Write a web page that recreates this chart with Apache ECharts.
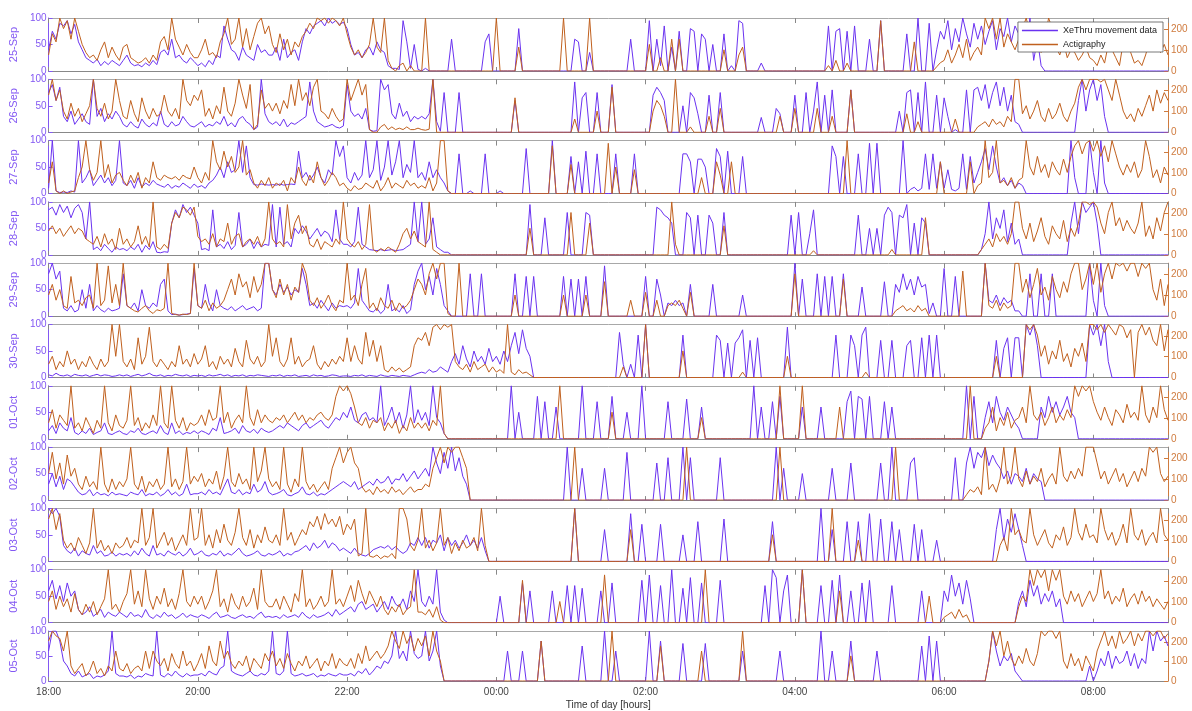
<!DOCTYPE html>
<html><head><meta charset="utf-8">
<script src="https://cdn.jsdelivr.net/npm/echarts@6/dist/echarts.min.js"></script>
<style>html,body{margin:0;padding:0;background:#fff}#c{width:1192px;height:711px}</style>
</head><body><div id="c"></div>
<script>
// Sampling step of the arrays (minutes after 18:00)
const STEP_MIN = 3;
const dayLabels = ['25-Sep','26-Sep','27-Sep','28-Sep','29-Sep','30-Sep','01-Oct','02-Oct','03-Oct','04-Oct','05-Oct'];
const seriesNames = ['XeThru movement data','Actigraphy'];

// ---------- 25-Sep ----------
const xeSep25 = [
40,75,60,90,85,95,70,88,55,40,25,20,15,22,10,18,12,20,15,10,
20,30,15,10,12,8,15,10,20,12,35,40,30,60,25,30,20,15,25,18,
10,15,8,20,12,30,25,85,60,40,35,20,45,30,25,20,50,35,40,30,
30,45,20,60,25,35,40,20,55,80,70,85,90,95,85,100,90,95,88,92,
80,50,30,35,25,40,45,30,55,40,35,10,5,5,3,95,55,5,50,3,
0,5,0,0,0,0,0,0,60,0,0,0,0,0,0,0,0,55,70,0,
0,0,0,0,0,0,80,0,0,0,0,0,0,0,0,0,0,0,0,0,
0,60,55,0,0,35,0,0,0,0,0,0,0,0,0,0,60,0,0,0,
0,95,0,60,10,85,0,45,0,75,0,0,80,75,0,70,60,0,50,0,
0,70,0,10,0,95,90,0,0,0,0,15,0,0,0,0,0,0,0,0,
0,0,0,0,0,0,0,0,0,85,0,75,80,0,75,0,85,0,0,0,
60,0,0,95,0,0,0,0,0,0,70,0,0,100,0,0,90,0,40,75,
60,95,40,80,55,100,70,45,90,60,85,50,75,95,40,80,65,100,55,85,
70,90,40,100,20,60,10,0,0,0,0,0,0,0,0,0,0,0,0,0,
0,0,0,0,0,0,0,0,0,0,0,0,0,0,0,0,0,0,0,0,0];
const acSep25 = [
77,179,140,255,204,242,153,255,191,128,89,64,77,51,102,140,64,115,77,51,
115,128,64,51,38,46,64,38,77,51,140,166,102,255,153,115,77,128,89,64,
64,102,153,77,89,64,140,179,255,128,153,255,115,204,102,166,230,255,179,217,
128,89,179,102,153,77,140,115,166,191,230,204,255,242,255,230,255,242,217,255,
179,115,77,102,64,89,128,255,115,89,255,51,13,0,26,38,0,26,0,0,
0,255,0,0,0,0,0,0,0,0,0,0,0,0,0,0,0,0,0,0,
255,0,0,0,0,0,115,0,0,0,0,0,0,0,0,0,0,0,255,0,
0,0,0,0,0,255,0,0,0,0,0,0,0,0,0,0,0,0,0,0,
0,128,0,0,64,0,0,153,0,153,0,0,0,0,0,0,0,0,0,0,
0,102,0,0,0,77,115,0,0,0,0,0,0,0,0,0,0,0,0,0,
0,0,0,0,0,0,0,0,0,26,0,51,0,0,38,0,0,0,0,0,
0,0,0,242,0,0,0,0,0,0,0,0,140,0,0,0,0,0,20,40,
51,102,38,77,128,64,153,51,89,115,77,255,204,255,153,255,115,179,140,102,
153,204,255,179,102,128,89,153,255,204,115,77,140,64,102,89,51,77,115,64,
51,26,77,38,128,102,64,26,140,115,89,38,51,26,77,140,102,153,89,128,77];

// ---------- 26-Sep ----------
const xeSep26 = [
75,90,60,85,30,20,40,15,25,35,20,15,100,30,45,20,35,25,40,30,
15,10,20,12,8,25,15,10,18,12,40,15,10,20,12,15,30,20,12,10,
15,20,10,15,12,20,15,30,12,18,10,25,30,20,15,5,10,100,35,20,
15,20,12,25,10,18,15,20,25,30,95,40,20,15,10,12,15,10,8,12,
90,40,30,35,25,45,5,2,3,100,80,90,35,25,55,30,40,20,30,25,
30,25,35,100,20,2,75,0,0,0,75,0,0,0,0,0,0,0,0,0,
0,0,0,0,0,60,0,0,0,0,0,0,0,0,0,0,0,0,0,0,
0,95,0,65,75,0,0,75,0,0,0,90,0,0,0,0,0,0,0,0,
0,0,70,85,75,60,0,0,0,0,50,0,75,65,35,0,0,70,0,0,
75,0,0,0,0,0,0,0,0,0,0,28,0,0,0,45,35,0,0,0,
70,0,0,75,0,40,95,0,70,0,80,0,0,0,0,80,0,0,0,0,
0,0,0,0,0,0,0,0,40,0,75,80,0,75,0,95,0,0,70,0,
65,30,0,5,0,0,80,0,80,85,60,90,45,75,95,50,85,40,70,20,
15,0,0,0,0,0,0,0,0,0,0,0,0,0,0,0,60,100,40,80,
100,60,90,30,0,0,0,0,0,0,0,0,0,0,0,0,0,0,0,0,0];
const acSep26 = [
179,255,153,204,102,64,140,77,115,51,89,128,255,115,77,140,64,102,255,153,
77,64,153,89,51,166,102,64,115,77,89,179,102,77,115,64,255,153,128,179,
153,204,77,115,64,128,89,217,102,77,140,255,179,115,230,13,38,204,115,140,
102,140,89,153,115,230,128,255,153,191,128,217,255,102,89,64,115,77,51,64,
255,153,204,255,179,230,13,0,0,26,38,13,26,13,20,13,26,13,13,20,
13,10,15,255,0,0,0,0,0,0,0,0,0,0,0,0,0,0,0,0,
0,0,0,0,0,166,0,0,0,0,0,0,0,0,0,0,0,0,0,0,
0,64,0,0,0,0,0,102,0,0,0,217,0,0,0,0,0,0,0,0,
0,0,102,153,128,77,0,0,255,0,0,0,26,0,0,0,0,77,0,0,
115,0,0,0,0,0,0,0,0,0,0,0,0,0,0,0,77,0,0,0,
115,0,0,0,0,0,115,0,0,0,77,0,0,0,0,204,0,0,0,0,
0,0,0,0,0,0,0,0,0,0,89,0,0,51,0,0,0,0,0,0,
0,0,0,64,0,0,0,0,0,26,38,51,26,64,38,51,26,77,51,255,
255,89,128,64,102,153,77,51,115,64,89,140,77,51,102,140,217,255,204,255,
255,255,242,255,204,153,255,179,102,64,89,51,115,77,128,179,102,204,140,191,153];

// ---------- 27-Sep ----------
const xeSep27 = [
10,100,5,2,3,2,5,3,100,20,30,45,15,25,35,20,30,15,25,100,
20,15,25,10,30,12,20,15,25,18,15,12,18,10,15,12,20,15,10,18,
12,15,10,20,25,35,50,30,60,40,45,100,40,90,30,17,16,18,17,16,
17,16,18,16,17,18,17,80,30,40,25,35,50,30,20,45,35,100,70,90,
30,20,40,25,35,100,30,45,100,25,50,100,35,60,100,30,55,40,100,30,
40,25,60,30,45,30,20,5,0,0,75,0,0,5,0,0,0,75,0,0,
0,5,0,0,0,0,0,0,85,0,0,0,0,0,0,100,0,0,0,0,
70,0,60,0,80,0,0,75,0,0,0,0,75,0,0,0,0,75,0,0,
0,0,0,0,0,0,0,0,0,0,75,75,60,0,65,65,50,0,0,85,
70,0,80,0,0,0,70,0,0,0,0,0,0,0,0,0,0,0,0,0,
0,0,0,0,0,0,0,0,0,0,90,70,0,70,0,0,0,75,0,0,
95,0,95,0,0,0,0,0,0,100,0,8,12,5,10,75,8,75,10,60,
10,45,8,5,10,75,8,70,20,40,60,85,45,90,50,20,30,15,25,10,
20,15,0,0,0,0,0,0,0,0,0,0,0,0,100,30,0,0,0,100,
40,0,100,20,0,0,0,0,0,0,0,0,0,0,0,0,0,0,0,0,0];
const acSep27 = [
51,153,13,0,13,0,8,13,77,128,255,115,64,102,255,77,140,51,89,102,
64,38,89,51,102,26,77,51,153,77,64,89,77,71,82,64,89,77,71,128,
77,51,102,64,255,153,115,204,128,179,102,128,255,89,115,51,26,64,38,77,
26,51,38,64,13,77,51,128,64,38,89,51,153,77,38,64,102,77,38,51,
26,13,38,20,26,51,38,26,64,13,38,77,26,51,38,26,64,38,51,26,
38,26,77,13,51,255,255,13,0,0,0,0,0,0,0,0,0,0,0,0,
0,0,0,0,0,0,0,0,0,0,0,0,0,0,0,230,0,0,0,0,
140,0,0,0,0,0,0,0,0,0,242,0,128,0,0,0,0,115,0,0,
0,0,0,0,0,0,0,0,0,0,0,0,0,0,0,77,0,0,0,153,
89,0,0,153,0,0,0,0,0,0,0,0,0,0,0,0,0,0,0,0,
0,0,0,0,0,0,0,0,0,0,0,0,0,0,255,0,0,0,0,0,
0,0,0,0,0,0,0,0,0,0,0,0,0,0,0,0,0,0,0,153,
0,0,0,0,0,0,0,153,0,38,51,255,77,102,255,51,64,38,77,26,
64,77,255,128,89,179,102,140,77,153,115,89,166,102,179,230,255,191,242,255,
204,255,179,230,153,255,191,128,89,140,102,153,77,115,255,179,77,115,51,128,89];

// ---------- 28-Sep ----------
const xeSep28 = [
85,90,75,95,80,92,70,88,95,80,30,100,10,15,8,20,12,5,15,10,
12,8,15,10,20,5,18,10,25,5,4,6,5,60,85,70,95,80,90,75,
60,10,12,8,85,15,20,12,25,10,18,80,15,20,30,12,25,15,20,18,
95,15,90,20,25,15,50,40,55,45,30,40,50,35,45,40,25,85,30,20,
20,15,25,90,20,15,10,9,8,10,8,9,10,8,9,10,15,20,100,25,
100,20,30,70,15,10,5,5,0,0,0,0,0,0,0,0,0,0,0,0,
0,0,0,0,0,0,0,0,0,95,0,0,0,70,0,0,0,0,0,80,
0,0,0,0,80,75,0,0,0,0,0,0,0,0,0,0,0,0,0,0,
0,0,0,90,85,75,70,60,0,0,0,80,70,0,75,0,0,75,60,0,
0,80,0,0,0,0,0,0,0,0,0,0,0,0,0,0,0,0,0,75,
0,80,0,0,40,85,0,0,0,0,0,0,0,0,0,0,0,75,0,0,
50,0,50,0,75,90,80,0,75,70,95,0,60,0,70,60,0,0,0,0,
0,0,0,0,0,0,0,0,0,0,10,40,100,30,70,50,85,25,60,20,
30,0,0,0,0,0,0,0,0,0,0,0,0,0,60,100,40,100,80,90,
100,60,0,0,0,0,0,0,0,0,0,0,0,0,0,0,0,0,0,0,0];
const acSep28 = [
115,140,102,128,89,115,140,102,128,115,77,64,51,89,38,102,51,77,26,128,
51,77,38,64,140,51,89,38,255,38,26,51,31,153,204,179,230,217,191,230,
89,64,77,51,102,38,77,64,153,51,89,102,38,64,77,51,89,38,77,255,
77,51,64,38,242,77,153,191,102,140,51,38,77,26,64,51,38,77,51,255,
77,51,38,64,26,51,242,26,13,31,20,38,26,13,51,102,128,77,115,64,
51,38,255,26,13,0,0,0,0,0,0,0,0,0,0,0,0,0,0,0,
0,0,0,0,0,0,0,0,0,128,0,0,0,0,0,0,0,0,0,0,
204,0,0,0,0,153,0,0,0,0,0,0,0,0,0,0,0,0,0,0,
0,0,0,0,0,0,0,255,51,0,0,0,0,0,0,0,0,0,0,0,
0,140,0,0,0,0,0,0,0,0,0,0,0,0,0,0,0,0,0,0,
0,0,0,0,0,20,0,0,0,0,0,0,0,0,0,0,0,0,0,0,
0,0,0,0,0,0,26,0,0,0,0,0,0,0,0,179,0,0,0,0,
0,0,0,0,0,0,0,0,0,0,26,51,77,38,102,64,89,51,102,255,
255,128,77,153,64,115,179,89,51,140,102,77,166,64,128,89,153,255,255,242,
255,230,153,102,204,255,140,179,115,166,128,102,153,255,89,140,77,179,115,204,255];

// ---------- 29-Sep ----------
const xeSep29 = [
80,100,70,85,15,10,20,8,12,50,15,60,10,20,12,8,15,10,12,15,
80,20,15,25,10,50,20,15,25,18,60,70,10,3,4,2,3,4,5,90,
20,15,60,25,10,50,20,15,12,18,10,15,20,12,15,18,10,15,100,100,
50,40,60,45,55,40,50,45,90,60,20,25,15,30,20,10,25,15,20,18,
20,15,25,90,30,20,10,8,15,5,12,60,10,15,8,20,5,12,60,85,
100,50,75,40,90,60,20,10,0,0,0,0,0,80,0,0,80,0,0,0,
0,0,0,0,0,80,0,0,75,0,75,0,0,0,0,0,0,0,75,0,
70,0,70,0,75,0,0,0,0,95,0,0,0,0,0,0,0,0,0,0,
75,0,0,70,40,0,25,20,30,20,25,0,60,0,0,0,0,0,60,0,
0,0,0,0,0,0,40,0,0,0,0,0,0,0,0,0,0,0,0,0,
100,0,70,0,0,0,80,0,75,0,75,0,0,80,0,0,0,0,55,0,
0,0,0,0,65,0,0,60,45,80,50,70,40,75,55,60,5,25,0,0,
90,0,0,75,0,0,0,0,0,0,0,100,30,25,40,20,35,25,30,10,
10,0,0,80,0,0,80,0,0,80,0,0,0,0,0,0,0,0,0,100,
30,0,100,20,0,0,0,0,0,0,0,0,0,0,0,0,0,0,0,0,0];
const acSep29 = [
102,153,77,128,51,38,191,64,77,51,89,102,38,255,51,77,242,64,153,51,
255,51,38,26,20,38,51,26,13,31,26,38,255,13,8,5,10,8,13,255,
51,38,77,26,64,38,51,77,128,179,102,204,140,166,89,191,115,153,255,255,
128,89,179,102,153,77,140,115,255,204,77,51,89,38,64,102,51,26,77,64,
255,77,102,51,153,230,38,64,26,89,51,38,77,26,64,38,51,77,128,179,
153,102,204,255,179,255,255,13,0,0,255,0,0,0,0,0,0,0,0,0,
0,0,0,0,0,102,0,0,0,0,0,0,0,0,0,0,0,0,102,0,
0,0,0,0,102,0,0,0,0,166,0,0,0,0,0,0,77,0,0,0,
115,0,0,77,0,0,51,64,51,77,38,0,115,0,0,0,0,0,0,0,
0,0,0,0,0,0,0,0,0,0,0,0,0,0,0,0,0,0,0,0,
204,0,0,0,0,0,0,0,0,0,0,0,0,179,0,0,0,0,0,0,
0,0,0,0,0,0,0,26,38,51,26,38,20,51,26,38,0,0,0,0,
0,0,0,0,0,217,0,0,0,0,0,255,51,38,77,26,64,38,51,255,
255,115,179,89,153,230,102,140,77,191,128,89,166,115,204,255,255,128,179,255,
153,255,115,204,255,179,255,242,255,217,255,255,191,255,230,255,128,77,179,51,153];

// ---------- 30-Sep ----------
const xeSep30 = [
5,3,8,4,3,5,2,6,4,3,5,2,4,6,3,5,4,2,3,5,
3,5,2,4,6,3,5,8,4,3,5,2,4,3,6,4,3,5,2,4,
3,4,2,5,3,4,6,3,5,2,4,3,5,2,4,3,5,4,3,2,
4,3,5,2,4,3,5,2,3,4,2,5,3,4,2,3,5,4,2,3,
3,2,4,3,5,2,4,3,2,5,3,2,4,3,2,4,3,2,5,8,
10,8,15,10,12,20,15,10,30,45,25,60,35,20,50,30,40,25,55,30,
40,25,50,30,60,85,45,90,55,40,0,0,0,0,0,0,0,0,0,0,
0,0,0,0,0,0,0,0,0,0,0,0,0,85,25,0,25,0,80,0,
100,0,0,0,0,0,0,0,0,0,80,0,0,0,0,0,0,0,0,80,
70,0,65,0,65,75,90,0,70,0,75,0,0,0,0,0,0,0,95,0,
0,0,0,0,0,0,0,0,0,0,0,80,0,0,0,80,60,0,80,95,
0,0,0,70,0,0,70,0,0,0,60,70,0,0,75,0,80,0,80,0,
0,0,0,0,0,0,0,0,0,0,0,0,0,0,70,0,55,75,0,75,
75,0,100,80,100,60,0,0,0,0,0,0,0,0,0,0,0,0,0,100,
80,100,60,100,30,0,0,0,0,0,0,0,0,0,0,0,0,0,0,0,0];
const acSep30 = [
64,102,38,77,51,128,64,89,38,77,51,102,64,38,89,51,77,255,102,255,
77,51,89,38,191,64,102,242,77,51,89,64,38,77,51,153,64,89,51,115,
64,89,153,51,77,38,102,64,89,51,140,77,51,179,89,64,102,51,77,255,
102,191,77,51,89,191,64,102,51,77,89,153,64,38,77,51,89,64,102,77,
191,77,153,89,64,217,102,179,77,153,38,26,51,31,46,26,38,51,153,191,
179,217,153,242,255,230,255,242,255,77,51,38,64,26,77,38,51,64,26,51,
26,38,20,255,26,13,38,20,26,13,0,0,0,0,0,0,0,0,0,0,
0,0,0,0,0,0,0,0,0,0,0,0,0,0,51,0,0,0,0,0,
255,0,0,0,0,0,0,0,0,0,128,0,0,0,0,0,0,0,0,0,
0,0,0,0,0,0,26,0,0,0,0,0,0,0,0,0,0,0,102,0,
0,0,0,0,0,0,0,0,0,0,0,0,0,0,0,0,0,0,0,26,
0,0,0,0,0,0,0,0,0,0,0,0,0,0,0,0,0,0,0,0,
0,0,0,0,0,0,0,0,0,0,0,0,0,0,102,0,0,0,0,0,
0,0,255,230,255,204,102,153,64,128,89,179,77,115,51,140,102,166,77,255,
255,230,255,217,255,230,204,255,242,191,230,0,217,255,204,242,179,153,255,128,230];

// ---------- 01-Oct ----------
const xeOct01 = [
15,25,10,30,20,15,40,12,8,15,10,20,8,12,15,30,10,8,12,15,
10,8,15,12,20,10,8,12,15,10,25,12,8,30,10,15,8,12,10,15,
10,15,12,8,20,15,40,10,12,15,20,10,25,15,12,18,10,20,15,12,
15,20,25,20,30,25,20,15,25,30,20,25,30,35,25,20,30,40,35,50,
40,60,35,30,45,50,35,40,30,100,25,40,60,30,50,20,45,100,30,55,
35,50,25,100,40,30,10,0,0,0,0,0,0,0,0,0,0,0,0,0,
0,0,0,0,100,0,50,0,0,0,0,80,0,70,0,0,60,0,0,0,
0,0,0,100,0,0,0,70,0,0,0,80,0,0,0,50,0,0,0,100,
0,0,0,0,0,0,70,0,0,0,0,75,0,0,0,60,0,0,0,0,
0,0,0,0,0,0,0,0,0,100,0,60,0,0,70,0,80,0,0,0,
0,0,60,0,0,0,0,60,0,0,0,0,0,0,70,90,0,80,75,0,
80,0,0,0,70,0,60,0,0,0,0,0,0,0,0,0,0,0,0,0,
0,0,0,0,0,0,100,0,80,0,0,40,70,30,80,50,35,60,45,30,
20,0,0,0,0,0,60,40,80,50,70,45,60,80,50,40,0,0,0,0,
0,0,0,0,0,0,0,0,0,0,0,0,0,0,0,0,0,0,0,0,0];
const acOct01 = [
77,140,51,115,89,64,255,51,77,38,102,64,26,89,51,255,77,38,115,64,
51,89,255,64,102,38,77,51,115,64,255,77,51,255,89,51,102,38,77,64,
77,115,64,140,89,102,255,77,128,51,89,115,77,255,102,64,140,77,115,89,
77,102,89,115,77,102,128,89,115,77,102,89,115,128,102,89,115,204,255,230,
255,217,153,77,64,102,51,89,77,102,38,77,51,89,26,64,38,102,51,77,
51,77,38,89,64,255,26,0,0,0,0,0,0,0,0,0,0,0,0,0,
0,0,0,0,0,0,0,0,0,0,0,0,0,0,0,0,0,255,0,0,
0,0,0,0,0,0,0,0,0,0,0,128,0,0,0,0,0,0,0,0,
0,0,0,0,0,0,0,0,0,0,0,0,0,0,0,102,0,0,0,0,
0,0,0,0,0,0,0,0,0,0,0,0,0,0,0,0,255,0,0,0,
0,0,255,0,0,0,0,0,0,0,0,0,153,0,0,0,0,0,0,0,
0,0,0,0,0,0,0,0,0,0,0,0,0,0,0,0,0,0,0,0,
0,0,0,0,0,0,0,255,0,0,0,51,77,153,38,102,64,128,51,89,
102,153,77,255,115,89,128,64,102,153,77,115,89,140,102,255,204,255,230,255,
179,128,89,153,102,64,140,115,77,166,102,128,89,255,115,77,153,102,255,140,89];

// ---------- 02-Oct ----------
const xeOct02 = [
30,50,25,45,20,40,35,25,15,10,12,20,8,15,10,12,8,15,10,12,
10,8,15,12,10,20,8,12,10,15,8,12,20,10,15,8,12,30,10,12,
12,15,10,20,12,15,10,25,40,15,12,20,10,15,12,30,15,20,35,15,
10,12,15,20,10,8,12,15,25,12,10,15,8,12,10,15,20,25,30,35,
30,25,35,20,25,30,35,28,40,32,35,45,30,40,38,50,35,45,55,40,
50,60,45,100,70,50,90,60,100,55,80,45,30,0,0,0,0,0,0,0,
0,0,0,0,0,0,0,0,0,0,0,0,0,0,0,0,0,0,0,100,
0,0,0,60,0,0,0,0,0,60,0,0,0,0,0,90,0,0,0,0,
0,0,0,70,0,0,80,0,0,0,100,0,80,0,0,0,0,0,0,0,
80,0,0,0,0,0,0,0,0,0,0,0,0,0,0,100,0,60,0,0,
0,0,50,0,0,0,0,0,0,0,60,0,0,0,0,70,0,0,0,0,
0,0,0,70,0,0,100,0,0,0,0,70,80,0,0,0,0,0,0,0,
0,0,0,80,0,0,70,100,60,90,80,100,65,85,70,60,40,55,30,50,
45,35,60,30,50,40,35,0,0,0,0,0,0,0,0,0,0,0,0,0,
0,0,0,0,0,0,0,0,0,0,0,0,0,0,0,0,0,0,0,0,0];
const acOct02 = [
128,230,102,179,77,217,115,153,77,51,115,64,89,51,255,77,38,102,51,89,
64,102,255,77,51,115,38,89,64,102,51,77,255,64,102,51,89,255,77,115,
89,128,64,102,77,140,51,115,255,89,64,128,77,102,51,255,89,140,255,102,
64,89,51,255,77,38,102,64,255,89,51,77,38,64,89,51,153,204,255,179,
230,255,179,153,64,38,51,26,64,38,51,31,64,38,51,26,46,64,38,51,
51,77,64,153,204,255,179,255,230,255,255,204,153,0,0,0,0,0,0,0,
0,0,0,0,0,0,0,0,0,0,0,0,0,0,0,0,0,0,0,0,
0,255,0,0,0,0,0,0,0,0,0,0,0,0,0,0,0,0,0,0,
0,0,0,0,0,0,0,0,0,0,0,255,0,0,0,0,0,0,0,0,
0,0,0,0,0,0,0,0,0,0,0,0,0,0,0,0,255,0,0,0,
0,0,0,0,0,0,0,0,0,0,0,0,0,0,0,0,0,0,0,0,
0,0,0,0,0,0,0,255,0,0,0,0,0,0,0,0,0,0,0,0,
0,0,0,0,0,0,26,51,38,64,26,255,51,77,38,102,255,77,115,255,
102,64,140,77,115,89,153,64,102,128,77,255,115,89,140,102,153,115,255,255,
255,179,102,140,77,115,153,89,128,64,102,140,89,153,115,255,230,255,128,89,115];

// ---------- 03-Oct ----------
const xeOct03 = [
100,90,100,85,30,20,15,25,10,20,15,12,30,15,20,10,12,18,10,15,
12,15,10,20,12,25,15,10,30,12,15,10,20,15,12,18,10,15,25,12,
15,20,12,10,15,12,20,10,15,12,18,25,15,10,12,15,20,12,10,15,
12,15,20,10,15,12,18,20,25,30,20,35,25,30,40,25,35,30,20,25,
20,15,25,15,12,10,15,22,25,28,25,30,22,28,20,15,20,35,30,45,
30,45,25,40,35,50,20,45,30,40,25,35,50,30,40,25,45,20,0,0,
0,0,0,0,0,0,0,0,0,0,0,0,0,0,0,0,0,0,0,0,
0,100,0,0,0,0,0,0,0,60,0,0,0,0,0,0,90,0,0,70,
0,0,0,0,70,0,0,0,0,0,50,0,0,0,75,0,0,0,0,0,
0,80,0,0,0,0,0,0,0,0,0,0,0,0,75,0,0,0,0,0,
0,0,0,0,0,0,0,100,0,0,60,0,0,0,75,0,0,75,0,0,
90,0,0,80,0,0,75,0,60,0,0,0,70,0,60,0,0,0,40,0,
0,0,0,0,0,0,0,0,0,0,0,0,0,0,60,100,40,80,55,90,
60,30,0,0,0,0,0,0,0,0,0,0,0,0,0,0,0,0,0,0,
0,0,0,0,0,0,0,0,0,0,0,0,0,0,0,0,0,0,0,0,0];
const acOct03 = [
204,255,153,230,102,64,89,51,115,77,38,89,255,64,102,51,77,38,89,64,
77,115,64,102,89,255,77,115,255,64,102,140,77,115,51,89,128,77,255,102,
115,255,77,128,64,153,89,179,102,77,140,255,115,77,153,64,128,89,166,102,
89,128,77,255,102,140,77,115,153,128,191,166,217,153,230,179,204,166,217,128,
179,153,204,26,38,255,26,20,31,13,26,20,38,13,255,255,204,77,51,102,
255,64,102,51,89,255,77,115,38,89,51,102,64,77,115,51,255,77,0,0,
0,0,0,0,0,0,0,0,0,0,0,0,0,0,0,0,0,0,0,0,
0,255,0,0,0,0,0,0,0,0,0,0,0,0,0,0,153,0,0,0,
0,0,0,0,0,0,0,0,0,0,0,0,0,0,0,0,0,0,0,0,
0,0,0,0,0,0,0,0,0,0,0,0,0,0,128,0,0,0,0,0,
0,0,0,0,0,0,0,0,0,0,255,0,0,0,0,0,0,102,0,0,
0,0,0,0,0,0,0,0,0,0,0,0,0,0,0,0,0,0,0,0,
0,0,0,0,0,0,0,0,0,0,0,0,0,0,0,77,115,51,255,128,
153,102,89,255,128,77,115,153,89,64,128,102,166,77,115,255,140,102,179,115,
128,89,255,153,102,140,77,115,179,89,255,128,102,153,77,115,140,89,255,128,102];

// ---------- 04-Oct ----------
const xeOct04 = [
60,80,45,70,40,75,50,60,25,15,20,30,12,18,25,10,20,15,12,20,
15,10,20,12,15,10,25,12,8,15,10,20,12,15,8,12,18,10,15,12,
10,15,12,8,15,20,10,12,15,10,8,12,15,10,12,8,15,20,10,12,
10,12,8,15,10,12,15,10,20,12,8,15,10,12,15,20,12,25,15,20,
25,30,20,35,40,25,30,35,20,30,40,25,50,35,30,45,25,60,40,100,
40,30,50,35,100,20,5,0,0,0,0,0,0,0,0,0,0,0,0,0,
0,50,0,0,0,0,0,75,0,60,0,0,0,0,0,60,0,0,0,70,
0,70,0,65,0,0,0,0,60,0,0,75,0,0,0,0,0,0,0,80,
0,90,0,0,70,0,0,100,0,0,65,0,85,0,0,75,0,0,0,0,
80,0,0,0,0,0,0,0,0,0,0,0,70,0,100,85,0,60,90,0,
0,0,100,0,0,0,0,70,0,0,80,0,90,0,0,60,0,0,75,0,
80,0,0,0,0,0,70,0,0,0,0,0,0,0,60,0,0,0,0,0,
60,40,90,50,75,35,80,45,0,0,0,0,0,0,0,0,0,0,0,0,
40,60,30,80,50,70,35,55,40,60,30,45,0,0,0,0,0,0,0,0,
0,0,0,0,0,0,0,0,0,0,0,0,0,0,0,0,0,0,0,0,0];
const acOct04 = [
102,153,64,128,77,115,51,140,64,38,89,51,102,38,77,115,255,64,89,51,
102,140,255,89,153,77,255,115,64,128,89,166,77,115,64,140,255,102,77,128,
89,128,64,102,153,255,77,115,51,140,89,64,128,77,102,166,64,255,102,77,
77,115,64,128,89,51,140,102,255,77,115,64,89,128,77,102,255,89,115,77,
128,179,102,204,140,89,153,115,77,128,64,38,77,51,89,38,64,77,255,51,
51,38,64,26,77,13,0,0,0,0,0,0,0,0,0,0,0,0,0,0,
0,0,0,0,0,0,0,204,0,0,0,0,0,0,0,0,0,102,0,0,
0,0,0,0,0,0,0,0,0,230,0,0,0,0,0,0,0,0,0,0,
0,0,0,0,0,0,0,0,0,0,0,0,0,0,0,0,255,0,0,0,
0,0,0,0,0,0,0,0,0,0,0,0,0,0,0,0,0,0,0,0,
0,0,255,0,0,0,0,0,0,0,0,0,153,0,0,0,0,0,0,0,
0,0,0,0,0,0,0,0,0,0,0,0,0,0,0,0,128,0,0,0,
26,38,51,20,64,26,38,0,0,0,0,0,0,0,0,0,0,0,0,0,
77,128,102,255,179,255,217,255,153,255,204,255,128,89,153,102,140,77,115,153,
102,140,255,115,153,89,128,102,166,77,115,140,89,153,102,128,77,115,89,64,102];

// ---------- 05-Oct ----------
const xeOct05 = [
60,100,100,80,40,30,15,10,20,8,12,15,5,10,8,12,20,100,15,10,
10,8,12,5,10,8,15,12,10,100,12,8,15,10,20,12,8,15,10,12,
12,15,10,20,15,12,25,30,100,20,15,12,10,15,20,12,10,15,12,20,
100,15,12,20,100,15,10,12,15,10,12,15,8,12,10,15,12,10,15,12,
12,15,10,20,15,25,12,20,30,25,40,35,50,100,45,60,40,100,55,45,
50,100,40,60,100,30,0,0,0,0,0,0,0,0,0,0,0,0,0,0,
0,0,0,60,0,0,0,60,0,0,0,0,80,0,0,0,0,0,0,0,
0,0,0,70,0,0,0,0,0,100,0,0,60,0,0,0,0,0,0,0,
0,100,0,0,80,0,0,0,0,0,75,0,0,0,0,0,75,0,0,0,
0,0,0,0,0,0,60,0,0,0,0,0,0,0,0,0,60,0,0,0,
0,0,0,0,0,0,0,100,0,0,60,0,0,0,0,80,0,0,0,0,
0,0,60,0,0,0,0,0,0,0,0,0,0,0,70,0,90,0,80,0,
0,0,0,0,0,0,0,0,0,0,0,0,40,100,60,30,50,40,55,20,
10,0,0,0,0,0,0,0,0,0,0,0,0,0,0,0,0,0,0,30,
0,20,45,30,60,25,50,35,40,60,30,55,25,45,35,100,60,100,80,90,70];
const acOct05 = [
204,255,230,217,153,255,77,38,64,89,26,51,102,38,64,26,77,51,153,64,
51,89,38,64,77,51,153,64,153,102,77,115,51,140,89,64,153,77,102,51,
89,140,64,179,102,77,204,115,153,89,64,102,77,128,51,115,89,64,140,102,
153,77,115,64,140,89,51,102,77,128,64,89,115,51,102,77,140,64,115,89,
77,115,64,140,89,179,102,128,153,115,140,179,255,204,166,255,191,230,153,217,
179,230,128,255,153,102,0,0,0,0,0,0,0,0,0,0,0,0,0,0,
0,0,0,0,0,0,0,0,0,0,0,0,204,0,0,0,0,0,0,0,
0,0,0,0,0,0,0,0,0,0,0,255,0,0,0,0,0,0,0,0,
0,0,0,0,179,0,0,0,0,0,0,0,0,0,0,153,0,0,0,0,
0,0,0,0,0,0,255,0,0,0,0,0,0,0,0,0,0,0,0,0,
0,0,0,0,0,0,0,0,0,0,0,0,0,0,0,128,0,0,0,0,
0,0,0,0,0,0,0,0,0,0,0,0,0,0,0,0,0,0,0,0,
0,0,0,0,0,0,0,0,0,0,0,0,102,255,179,255,128,204,115,77,
128,89,166,102,77,140,255,230,255,255,217,255,102,64,140,77,115,51,128,89,
51,153,204,255,179,230,166,255,191,217,255,179,242,204,255,255,230,255,255,217,242];

const xeAll = [xeSep25,xeSep26,xeSep27,xeSep28,xeSep29,xeSep30,xeOct01,xeOct02,xeOct03,xeOct04,xeOct05];
const acAll = [acSep25,acSep26,acSep27,acSep28,acSep29,acSep30,acOct01,acOct02,acOct03,acOct04,acOct05];

// ---------- styling ----------
const PURPLE = '#6a32f0';
const PURPLE_TXT = '#8358f3';
const ORANGE = '#c0601e';
const ORANGE_TXT = '#cf7b3e';
const FONT = 'Liberation Sans, Arial, sans-serif';

const chart = echarts.init(document.getElementById('c'), null, {renderer: 'canvas'});
const grids = [], xAxes = [], yAxes = [], series = [];
const nPanels = dayLabels.length;
const fmtTime = v => String((18 + v / 60) % 24).padStart(2, '0') + ':00';

for (let k = 0; k < nPanels; k++) {
  const last = k === nPanels - 1;
  grids.push({left: 46, right: 24, top: 18 + k * 61.3, height: 53});
  xAxes.push({
    type: 'value', gridIndex: k, min: 0, max: 900, interval: 120, position: 'bottom',
    axisLine: {show: true, onZero: false, lineStyle: {color: '#888', width: 1}},
    axisTick: {show: true, inside: true, length: 4, lineStyle: {color: '#888'}},
    axisLabel: {show: last, formatter: fmtTime, color: '#444', fontSize: 10, margin: 6,
      fontFamily: FONT, showMaxLabel: false},
    splitLine: {show: false},
    name: last ? 'Time of day [hours]' : '', nameLocation: 'middle', nameGap: 19,
    nameTextStyle: {color: '#333', fontSize: 10, fontFamily: FONT}
  });
  xAxes.push({
    type: 'value', gridIndex: k, min: 0, max: 900, interval: 120, position: 'top',
    axisLine: {show: true, onZero: false, lineStyle: {color: '#a8a8a8', width: 1}},
    axisTick: {show: true, inside: true, length: 5, lineStyle: {color: '#888'}},
    axisLabel: {show: false}, splitLine: {show: false}
  });
  yAxes.push({
    type: 'value', gridIndex: k, min: 0, max: 100, interval: 50, position: 'left',
    axisLine: {show: true, onZero: false, lineStyle: {color: PURPLE_TXT, width: 1}},
    axisTick: {show: true, inside: true, length: 4, lineStyle: {color: PURPLE_TXT}},
    axisLabel: {color: PURPLE_TXT, fontSize: 10, margin: 2, fontFamily: FONT},
    splitLine: {show: false},
    name: dayLabels[k], nameLocation: 'middle', nameGap: 21, nameRotate: 90,
    nameTextStyle: {color: PURPLE_TXT, fontSize: 11, fontFamily: FONT}
  });
  yAxes.push({
    type: 'value', gridIndex: k, min: 0, max: 255, interval: 100, position: 'right',
    axisLine: {show: true, onZero: false, lineStyle: {color: ORANGE_TXT, width: 1}},
    axisTick: {show: true, inside: true, length: 4, lineStyle: {color: ORANGE_TXT}},
    axisLabel: {color: ORANGE_TXT, fontSize: 10, margin: 3, fontFamily: FONT, showMaxLabel: false},
    splitLine: {show: false}
  });
  series.push({
    type: 'line', name: seriesNames[0], xAxisIndex: 2 * k, yAxisIndex: 2 * k,
    data: xeAll[k].map((v, i) => [i * STEP_MIN, v]),
    showSymbol: false, symbol: 'none', lineStyle: {width: 1, color: PURPLE},
    itemStyle: {color: PURPLE}, z: 2, animation: false
  });
  series.push({
    type: 'line', name: seriesNames[1], xAxisIndex: 2 * k, yAxisIndex: 2 * k + 1,
    data: acAll[k].map((v, i) => [i * STEP_MIN, v]),
    showSymbol: false, symbol: 'none', lineStyle: {width: 1, color: ORANGE},
    itemStyle: {color: ORANGE}, z: 3, animation: false
  });
}

chart.setOption({
  animation: false,
  backgroundColor: '#fff',
  grid: grids, xAxis: xAxes, yAxis: yAxes, series: series,
  legend: {
    data: seriesNames, orient: 'vertical', top: 22, right: 29,
    icon: 'rect', itemWidth: 36, itemHeight: 1.5, itemGap: 5,
    textStyle: {fontSize: 9, color: '#222', fontFamily: FONT},
    backgroundColor: '#fff', borderColor: '#555', borderWidth: 0.8,
    padding: [4, 6, 3, 4], selectedMode: false, z: 20
  }
});
</script>
</body></html>
